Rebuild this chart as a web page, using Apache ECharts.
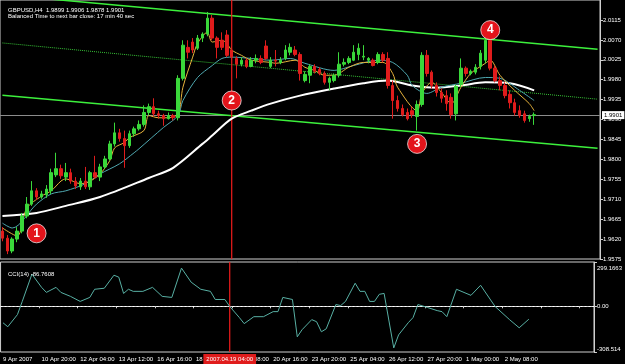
<!DOCTYPE html>
<html>
<head>
<meta charset="utf-8">
<script src="https://cdn.jsdelivr.net/npm/echarts@6/dist/echarts.min.js"></script>
<style>
  html, body { margin: 0; padding: 0; background: #000; }
  #chart { width: 625px; height: 364px; }
</style>
</head>
<body>
<div id="chart"></div>
<script>
// GBPUSD H4 bars, slot index = bar number (extra empty slots = chart shift)
var barCount = 123
var categories = []
for (var i = 0; i < barCount; i++) categories.push(String(i))

// time label every 8 bars
var timeLabels = ['9 Apr 2007', '10 Apr 20:00', '12 Apr 04:00', '13 Apr 12:00', '16 Apr 16:00',
  '18 Apr 00:00', '19 Apr 08:00', '20 Apr 16:00', '23 Apr 20:00', '25 Apr 04:00',
  '26 Apr 12:00', '27 Apr 20:00', '1 May 00:00', '2 May 08:00']

// [open, close, low, high]
var candles = [
  [1.9638, 1.9622, 1.9615, 1.9647], [1.9622, 1.9593, 1.9586, 1.9629], [1.9593, 1.9620, 1.9588, 1.9624],
  [1.9620, 1.9638, 1.9613, 1.9647], [1.9638, 1.9672, 1.9633, 1.9679], [1.9672, 1.9699, 1.9667, 1.9715],
  [1.9699, 1.9729, 1.9695, 1.9751], [1.9729, 1.9715, 1.9708, 1.9735], [1.9715, 1.9722, 1.9711, 1.9729],
  [1.9720, 1.9733, 1.9713, 1.9742], [1.9729, 1.9770, 1.9722, 1.9779], [1.9765, 1.9779, 1.9760, 1.9815],
  [1.9779, 1.9763, 1.9756, 1.9788], [1.9760, 1.9770, 1.9751, 1.9792], [1.9770, 1.9751, 1.9745, 1.9779],
  [1.9751, 1.9740, 1.9733, 1.9760], [1.9738, 1.9751, 1.9731, 1.9758], [1.9751, 1.9738, 1.9733, 1.9783],
  [1.9738, 1.9770, 1.9731, 1.9774], [1.9770, 1.9760, 1.9756, 1.9808], [1.9760, 1.9783, 1.9751, 1.9790],
  [1.9783, 1.9801, 1.9779, 1.9808], [1.9801, 1.9835, 1.9797, 1.9842], [1.9835, 1.9860, 1.9829, 1.9883],
  [1.9860, 1.9847, 1.9840, 1.9869], [1.9847, 1.9831, 1.9781, 1.9865], [1.9831, 1.9858, 1.9826, 1.9865],
  [1.9858, 1.9869, 1.9851, 1.9874], [1.9869, 1.9879, 1.9865, 1.9888], [1.9879, 1.9906, 1.9874, 1.9922],
  [1.9906, 1.9919, 1.9899, 1.9926], [1.9919, 1.9903, 1.9897, 1.9938], [1.9903, 1.9899, 1.9892, 1.9910],
  [1.9899, 1.9892, 1.9876, 1.9903], [1.9892, 1.9899, 1.9890, 1.9906], [1.9899, 1.9894, 1.9888, 1.9903],
  [1.9894, 1.9983, 1.9888, 1.9990], [1.9983, 2.0058, 1.9978, 2.0069], [2.0053, 2.0042, 2.0028, 2.0069],
  [2.0065, 2.0047, 2.0040, 2.0074], [2.0051, 2.0074, 2.0047, 2.0081], [2.0074, 2.0083, 2.0065, 2.0087],
  [2.0083, 2.0119, 2.0078, 2.0133], [2.0119, 2.0074, 2.0069, 2.0126], [2.0074, 2.0053, 2.0028, 2.0078],
  [2.0069, 2.0053, 2.0047, 2.0087], [2.0081, 2.0035, 2.0031, 2.0092], [2.0047, 2.0031, 2.0024, 2.0056],
  [2.0028, 2.0015, 1.9983, 2.0033], [2.0015, 2.0024, 2.0010, 2.0031], [2.0024, 2.0010, 2.0006, 2.0028],
  [2.0010, 2.0024, 2.0008, 2.0031], [2.0024, 2.0028, 2.0017, 2.0037], [2.0028, 2.0019, 2.0015, 2.0035],
  [2.0056, 2.0028, 2.0024, 2.0069], [2.0010, 2.0024, 2.0006, 2.0031], [2.0024, 2.0022, 2.0010, 2.0047],
  [2.0019, 2.0024, 2.0015, 2.0031], [2.0028, 2.0047, 2.0024, 2.0058], [2.0042, 2.0053, 2.0035, 2.0062],
  [2.0047, 2.0037, 2.0033, 2.0056], [2.0037, 1.9994, 1.9978, 2.0042], [1.9978, 1.9992, 1.9974, 1.9999],
  [1.9990, 2.0010, 1.9972, 2.0015], [2.0010, 1.9999, 1.9994, 2.0015], [2.0003, 1.9994, 1.9990, 2.0008],
  [1.9994, 1.9974, 1.9969, 1.9999], [1.9974, 1.9983, 1.9956, 1.9987], [1.9978, 1.9990, 1.9974, 1.9994],
  [1.9990, 2.0015, 1.9985, 2.0042], [2.0015, 2.0019, 2.0010, 2.0028], [2.0019, 2.0028, 2.0015, 2.0033],
  [2.0024, 2.0042, 2.0022, 2.0058], [2.0037, 2.0051, 2.0024, 2.0062], [2.0031, 2.0033, 2.0024, 2.0058],
  [2.0024, 2.0028, 2.0017, 2.0031], [2.0024, 2.0012, 2.0010, 2.0028], [2.0019, 2.0037, 2.0015, 2.0042],
  [2.0037, 2.0024, 2.0019, 2.0042], [2.0028, 1.9967, 1.9960, 2.0042], [1.9967, 1.9933, 1.9892, 1.9978],
  [1.9933, 1.9915, 1.9908, 1.9944], [1.9915, 1.9901, 1.9897, 1.9924], [1.9906, 1.9892, 1.9888, 1.9915],
  [1.9910, 1.9901, 1.9894, 1.9919], [1.9897, 1.9924, 1.9865, 1.9933], [1.9924, 2.0035, 1.9919, 2.0042],
  [2.0035, 1.9994, 1.9987, 2.0047], [1.9997, 1.9967, 1.9960, 2.0001], [1.9967, 1.9951, 1.9942, 1.9974],
  [1.9951, 1.9938, 1.9928, 1.9960], [1.9944, 1.9926, 1.9910, 1.9956], [1.9940, 1.9901, 1.9892, 1.9949],
  [1.9903, 1.9965, 1.9888, 1.9969], [1.9969, 2.0006, 1.9963, 2.0028], [2.0006, 1.9994, 1.9987, 2.0010],
  [1.9994, 1.9999, 1.9990, 2.0003], [1.9997, 2.0008, 1.9992, 2.0015], [2.0010, 2.0040, 2.0003, 2.0047],
  [2.0024, 2.0069, 2.0017, 2.0078], [2.0069, 2.0006, 2.0001, 2.0076], [2.0006, 1.9978, 1.9974, 2.0012],
  [1.9978, 1.9967, 1.9956, 1.9987], [1.9967, 1.9944, 1.9938, 1.9974], [1.9947, 1.9928, 1.9915, 1.9956],
  [1.9928, 1.9906, 1.9899, 1.9937], [1.9910, 1.9899, 1.9894, 1.9922], [1.9903, 1.9888, 1.9883, 1.9910],
  [1.9892, 1.9897, 1.9885, 1.9901], [1.9899, 1.9901, 1.9878, 1.9906]
]

// moving averages: [bar, price]
var maFast = [[0, 1.9645], [3, 1.9627], [5, 1.9690], [8, 1.9717], [10, 1.9729], [12, 1.9751], [13, 1.9756],
  [16, 1.9745], [18, 1.9751], [20, 1.9767], [22, 1.9797], [23, 1.9826], [25, 1.9838], [26, 1.9849],
  [29, 1.9865], [30, 1.9899], [32, 1.9894], [34, 1.9894], [36, 1.9903], [37, 1.9963], [39, 2.0031],
  [40, 2.0062], [42, 2.0087], [43, 2.0065], [45, 2.0069], [46, 2.0062], [47, 2.0047], [49, 2.0035],
  [51, 2.0024], [55, 2.0019], [56, 2.0017], [60, 2.0024], [62, 2.0008], [64, 2.0001], [66, 1.9990],
  [68, 1.9990], [71, 2.0008], [74, 2.0019], [78, 2.0019], [80, 1.9994], [81, 1.9963], [85, 1.9910],
  [86, 1.9949], [88, 1.9974], [90, 1.9951], [92, 1.9926], [94, 1.9963], [96, 1.9994], [99, 2.0017],
  [100, 2.0024], [102, 1.9990], [105, 1.9956], [108, 1.9926], [109, 1.9910]]
var maMid = [[0, 1.9656], [2, 1.9645], [7, 1.9699], [10, 1.9722], [13, 1.9729], [17, 1.9745], [20, 1.9767],
  [24, 1.9790], [27, 1.9815], [28, 1.9824], [33, 1.9872], [36, 1.9899], [37, 1.9933], [40, 1.9985],
  [43, 2.0012], [45, 2.0028], [47, 2.0031], [51, 2.0028], [55, 2.0024], [59, 2.0028], [62, 2.0017],
  [68, 2.0001], [72, 2.0012], [77, 2.0024], [80, 2.0019], [83, 1.9990], [84, 1.9967], [87, 1.9949],
  [90, 1.9963], [94, 1.9972], [99, 1.9985], [102, 1.9983], [106, 1.9956], [109, 1.9933]]
var maSlow = [[0, 1.9672], [7, 1.9679], [13, 1.9695], [20, 1.9715], [30, 1.9758], [35, 1.9781], [41, 1.9835],
  [43, 1.9854], [47, 1.9892], [51, 1.9910], [55, 1.9926], [61, 1.9944], [68, 1.9960], [74, 1.9972],
  [79, 1.9978], [84, 1.9967], [89, 1.9962], [94, 1.9967], [99, 1.9974], [104, 1.9972], [109, 1.9956]]

// CCI(14): [bar, value]
var cci = [[0, -111], [1, -138], [3, -56], [4, 33], [6, 217], [8, 128], [9, 94], [11, 128], [12, 94], [14, 67],
  [16, 33], [18, 60], [19, 115], [21, 122], [23, 210], [24, 197], [25, 87], [26, 115], [27, 101], [29, 101],
  [31, 128], [33, 67], [35, 60], [37, 258], [39, 163], [41, 115], [43, 101], [44, 46], [46, 46], [47, -1],
  [49, -76], [50, -117], [52, -70], [54, -70], [56, -36], [57, -36], [58, 60], [60, 46], [61, -206], [62, -158],
  [64, -90], [65, -104], [66, -172], [67, -152], [69, 12], [70, 5], [71, 33], [73, 156], [74, 101], [75, 101],
  [76, 33], [77, 33], [78, 81], [79, 87], [81, -281], [82, -193], [84, -111], [85, -76], [86, 12], [88, -8],
  [90, -29], [91, -36], [92, -70], [94, 115], [97, 74], [99, 142], [102, -1], [105, -90], [107, -145], [109, -87]]

// channel trend lines [bar, price]
var channelUpper = [[0, 2.0172], [122, 2.0049]]
var channelCenter = [[0, 2.0063], [122, 1.9936]]
var channelLower = [[0, 1.9945], [122, 1.9825]]

// numbered signals
var signals = [
  { name: '1', coord: [7, 1.9633] },
  { name: '2', coord: [47, 1.9933] },
  { name: '3', coord: [85, 1.9835] },
  { name: '4', coord: [100, 2.0092] }
]

var priceMin = 1.9575
var priceMax = 2.0160
var priceStep = 0.0045
var bid = 1.9901
var cciMax = 299.1663
var cciMin = -308.514
var cursorBar = 47
var cursorText = '2007.04.19 04:00'

var font = 'Liberation Sans'
var cursorRed = '#f01c1c'
var chart = echarts.init(document.getElementById('chart'))

function maLine(data, color, width) {
  return {
    type: 'line', xAxisIndex: 0, yAxisIndex: 0, data: data, smooth: 0.3,
    symbol: 'none', silent: true, lineStyle: { color: color, width: width }
  }
}
function channel(data, color, type) {
  return {
    type: 'line', xAxisIndex: 0, yAxisIndex: 0, data: data, symbol: 'none', silent: true,
    lineStyle: { color: color, width: type === 'solid' ? 1.5 : 1, type: type }
  }
}
// vertical crosshair line through a whole panel
function cursorLine(axisIndex, lo, hi) {
  return {
    type: 'line', xAxisIndex: axisIndex, yAxisIndex: axisIndex, silent: true, symbol: 'none', z: 3,
    data: [[cursorBar, lo], [cursorBar, hi]],
    lineStyle: { color: cursorRed, width: 1.2 }
  }
}

chart.setOption({
  backgroundColor: '#000',
  animation: false,
  title: [
    { text: 'GBPUSD,H4  1.9899 1.9906 1.9878 1.9901', left: 3, top: 2,
      textStyle: { color: '#fff', fontSize: 6, fontWeight: 'normal', fontFamily: font } },
    { text: 'Balanced Time to next bar close: 17 min 40 sec', left: 3, top: 8,
      textStyle: { color: '#fff', fontSize: 6, fontWeight: 'normal', fontFamily: font } },
    { text: 'CCI(14) -86.7608', left: 3, top: 266,
      textStyle: { color: '#fff', fontSize: 6, fontWeight: 'normal', fontFamily: font } }
  ],
  grid: [
    { left: -1, right: 25, top: -1, height: 260, show: true, borderColor: '#cfcfcf', borderWidth: 1 },
    { left: -1, right: 25, top: 262, height: 90, show: true, borderColor: '#cfcfcf', borderWidth: 1 }
  ],
  xAxis: [
    { type: 'category', gridIndex: 0, data: categories, boundaryGap: true,
      axisLine: { show: false }, axisTick: { show: false }, axisLabel: { show: false }, splitLine: { show: false } },
    { type: 'category', gridIndex: 1, data: categories, boundaryGap: true,
      axisLine: { show: true, lineStyle: { color: '#cfcfcf' } },
      axisTick: { show: true, length: 2, interval: 7, lineStyle: { color: '#cfcfcf' } },
      axisLabel: {
        color: '#fff', fontSize: 6, fontFamily: font, margin: 4, align: 'left',
        interval: function (index) { return index % 8 === 0 },
        formatter: function (value, index) { return timeLabels[index / 8] || '' }
      },
      splitLine: { show: false } }
  ],
  yAxis: [
    { type: 'value', gridIndex: 0, position: 'right', min: priceMin, max: priceMax, interval: priceStep,
      axisLine: { show: true, lineStyle: { color: '#cfcfcf' } },
      axisTick: { show: true, length: 3, lineStyle: { color: '#cfcfcf' } },
      axisLabel: { color: '#fff', fontSize: 6, fontFamily: font, margin: 3, showMaxLabel: false,
        formatter: function (v) { return v.toFixed(4) } },
      splitLine: { show: false } },
    { type: 'value', gridIndex: 1, position: 'right', min: cciMin, max: cciMax,
      axisLine: { show: true, lineStyle: { color: '#cfcfcf' } },
      axisTick: { show: true, length: 3, customValues: [cciMax, 0, cciMin], lineStyle: { color: '#cfcfcf' } },
      axisLabel: {
        color: '#fff', fontSize: 6, fontFamily: font, margin: 3,
        customValues: [cciMax, 0, cciMin],
        formatter: function (v) {
          if (v === 0) return '0.00'
          return v > 0 ? '{t|' + cciMax.toFixed(4) + '}' : '{b|' + cciMin.toFixed(3) + '}'
        },
        rich: {
          t: { color: '#fff', fontSize: 6, fontFamily: font, padding: [12, 0, 0, 0] },
          b: { color: '#fff', fontSize: 6, fontFamily: font, padding: [0, 0, 6, 0] }
        }
      },
      splitLine: { show: false } }
  ],
  series: [
    channel(channelUpper, '#3cf03c', 'solid'),
    channel(channelLower, '#3cf03c', 'solid'),
    channel(channelCenter, '#36c236', 'dotted'),
    {
      // bid line
      type: 'line', xAxisIndex: 0, yAxisIndex: 0, data: [], silent: true,
      markLine: {
        silent: true, symbol: 'none', z: 3,
        lineStyle: { color: '#8c8c8c', width: 1, type: 'solid' },
        label: { show: true, position: 'end', distance: 2, formatter: bid.toFixed(4),
          color: '#000', backgroundColor: '#fff', fontSize: 6, fontFamily: font, padding: [1, 2] },
        data: [{ yAxis: bid }]
      }
    },
    cursorLine(0, priceMin, priceMax),
    {
      type: 'candlestick', xAxisIndex: 0, yAxisIndex: 0, data: candles, barWidth: 3, z: 4,
      itemStyle: { color: '#3ad83a', color0: '#e01c1c', borderColor: '#3ad83a', borderColor0: '#e01c1c', borderWidth: 1 }
    },
    maLine(maSlow, '#ffffff', 2),
    maLine(maMid, '#4fa8b0', 1),
    maLine(maFast, '#e8b43c', 1),
    {
      // numbered signal markers
      type: 'line', xAxisIndex: 0, yAxisIndex: 0, data: [], silent: true, z: 20,
      markPoint: {
        silent: true, symbol: 'circle', symbolSize: 19, z: 20,
        itemStyle: { color: '#e3141b', borderColor: 'rgba(255,255,255,0.7)', borderWidth: 1 },
        label: { show: true, formatter: '{b}', color: '#fff', fontSize: 12, fontWeight: 'bold', fontFamily: font },
        data: signals
      }
    },
    cursorLine(1, cciMin, cciMax),
    {
      type: 'line', xAxisIndex: 1, yAxisIndex: 1, data: cci, symbol: 'none', silent: true, z: 4,
      lineStyle: { color: '#58b0a4', width: 1 },
      markLine: {
        silent: true, symbol: 'none', z: 3,
        lineStyle: { color: '#ffffff', width: 1, type: [2, 2] },
        label: { show: false },
        data: [{ yAxis: 0 }]
      }
    },
    {
      // time box of the crosshair, under the axis
      type: 'line', xAxisIndex: 1, yAxisIndex: 1, data: [], silent: true, z: 10,
      markLine: {
        silent: true, symbol: 'none', z: 10,
        lineStyle: { color: 'rgba(0,0,0,0)', width: 1 },
        label: { show: true, position: 'start', distance: 2, formatter: cursorText,
          color: '#fff', backgroundColor: '#e01c1c', fontSize: 6, fontFamily: font, padding: [2, 3] },
        data: [{ xAxis: cursorBar }]
      }
    }
  ]
})
</script>
</body>
</html>
